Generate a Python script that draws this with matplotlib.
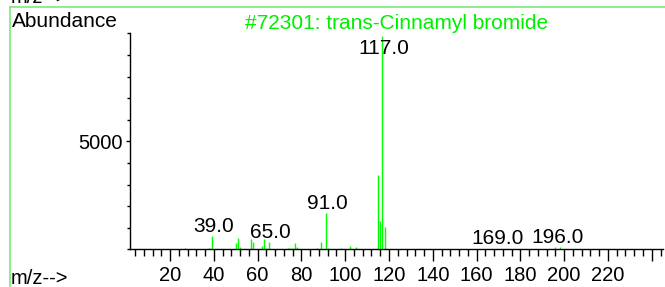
import matplotlib
matplotlib.use("Agg")
import matplotlib.pyplot as plt
from matplotlib.lines import Line2D
from matplotlib.ticker import MultipleLocator, FixedLocator

plt.rcParams['font.family'] = ['Liberation Sans', 'DejaVu Sans']

# ---- data ----
mz = [15, 27, 38, 39, 40, 44, 45, 50, 51, 52, 57, 58, 62, 63, 64, 65,
      74, 75, 76, 77, 78, 87, 89, 91, 92, 98, 102, 105,
      115, 116, 117, 118, 128, 131, 135, 169, 171, 196, 198]
abundance = [30, 70, 70, 635, 40, 30, 30, 280, 540, 100, 465, 340, 160, 460, 70, 340,
             80, 60, 80, 280, 110, 50, 340, 1670, 80, 50, 155, 110,
             3440, 1330, 9900, 1020, 35, 35, 30, 40, 40, 120, 120]
labeled_peaks = [39, 65, 91, 117, 169, 196]
title = "#72301: trans-Cinnamyl bromide"
x_major = [20, 40, 60, 80, 100, 120, 140, 160, 180, 200, 220, 240]
x_labels = ["20", "40", "60", "80", "100", "120", "140", "160", "180", "200", "220", ""]
y_major = [5000]

W, H = 665, 287
fig = plt.figure(figsize=(W / 100, H / 100), dpi=100)

ax_l, ax_r, ax_b, ax_t = 130, 662.7, 249.4, 33.3
ax = fig.add_axes([ax_l / W, 1 - ax_b / H, (ax_r - ax_l) / W, (ax_b - ax_t) / H])
ax.set_xlim(1.7, 245)
ax.set_ylim(0, 10005)

ax.vlines(mz, 0, abundance, colors='#00ff00', lw=1.0)

for sp in ['top', 'right']:
    ax.spines[sp].set_visible(False)
for sp in ['left', 'bottom']:
    ax.spines[sp].set_color('black')
    ax.spines[sp].set_linewidth(1.0)

ax.xaxis.set_major_locator(FixedLocator(x_major))
ax.set_xticklabels(x_labels)
ax.xaxis.set_minor_locator(MultipleLocator(4))
ax.yaxis.set_major_locator(FixedLocator(y_major))
ax.yaxis.set_minor_locator(MultipleLocator(1000))
ax.tick_params(axis='x', which='major', length=8.5, width=1.0, pad=3.5,
               labelsize=14.5, colors='black')
ax.tick_params(axis='x', which='minor', length=4.7, width=1.0)
ax.tick_params(axis='y', which='major', length=3, width=1.0, pad=2,
               labelsize=14.5)
ax.tick_params(axis='y', which='minor', length=2, width=1.0)

# peak labels
cap = 0.906 * ax.get_ylim()[1]
for p in labeled_peaks:
    h = abundance[mz.index(p)]
    if h > cap:
        ax.text(p + 0.8, cap, f"{p:.1f}", ha='center', va='baseline', fontsize=15)
    else:
        ax.annotate(f"{p:.1f}", xy=(p + 0.8, h), xytext=(0, 3), textcoords='offset points',
                    ha='center', va='baseline', fontsize=15)

# texts
fig.text(0.5 * (ax_l + ax_r) / W, 1 - 29 / H, title, color='#00ee00', fontsize=15,
         ha='center', va='baseline')
fig.text(11.5 / W, 1 - 26.7 / H, "Abundance", fontsize=15, ha='left', va='baseline')
fig.text(11 / W, 1 - 284.5 / H, "m/z-->", fontsize=14.5, ha='left', va='baseline')
fig.text(11 / W, 1 - 3 / H, "m/z-->", fontsize=14.5, ha='left', va='baseline')

# green frame
frame_c = '#86ec86'
fig.add_artist(Line2D([10 / W, 1], [1 - 7 / H, 1 - 7 / H], color=frame_c, lw=1.3,
                      transform=fig.transFigure))
fig.add_artist(Line2D([10 / W, 10 / W], [0, 1 - 7 / H], color=frame_c, lw=1.3,
                      transform=fig.transFigure))

fig.savefig("out.png", dpi=100)
